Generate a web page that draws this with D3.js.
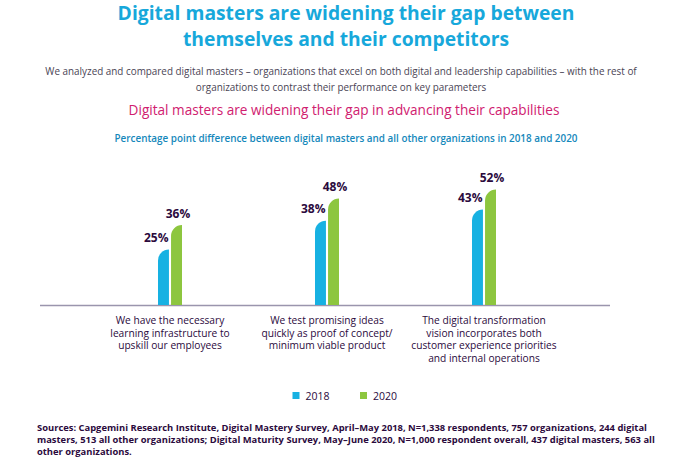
<!DOCTYPE html>
<html><head><meta charset="utf-8">
<script src="https://cdn.jsdelivr.net/npm/d3@7"></script>
<style>
html,body{margin:0;padding:0;background:#fff;}
svg{display:block;font-family:"Open Sans","Noto Sans",sans-serif;}
</style></head>
<body><svg id="c" width="680" height="460"></svg>
<script>
const titleLines = ["Digital masters are widening their gap between","themselves and their competitors"];
const introLines = ["We analyzed and compared digital masters \u2013 organizations that excel on both digital and leadership capabilities \u2013 with the rest of","organizations to contrast their performance on key parameters"];
const chartTitle = "Digital masters are widening their gap in advancing their capabilities";
const chartSubtitle = "Percentage point difference between digital masters and all other organizations in 2018 and 2020";
const categories = ["learning","testing","vision"];
const categoryLabels = [
  ["We have the necessary","learning infrastructure to","upskill our employees"],
  ["We test promising ideas","quickly as proof of concept/","minimum viable product"],
  ["The digital transformation","vision incorporates both","customer experience priorities","and internal operations"]
];
const seriesNames = ["2018","2020"];
const values2018 = [25,38,43];
const values2020 = [36,48,52];
const sourceLines = [
  "Sources: Capgemini Research Institute, Digital Mastery Survey, April\u2013May 2018, N=1,338 respondents, 757 organizations, 244 digital",
  "masters, 513 all other organizations; Digital Maturity Survey, May\u2013June 2020, N=1,000 respondent overall, 437 digital masters, 563 all",
  "other organizations."
];

const colors = {"2018":"#17b1e2","2020":"#8dc63f"};
const svg = d3.select("#c");

svg.selectAll("text.title").data(titleLines).join("text")
  .attr("x",346).attr("y",(d,i)=>19.5+i*26).attr("text-anchor","middle")
  .attr("font-size",19.3).attr("font-weight",700).attr("fill","#17a8db").text(d=>d);

svg.selectAll("text.intro").data(introLines).join("text")
  .attr("x",341).attr("y",(d,i)=>75+i*15.5).attr("text-anchor","middle")
  .attr("font-size",9.9).attr("fill","#4a4455").text(d=>d);

svg.append("text").attr("x",344).attr("y",115).attr("text-anchor","middle")
  .attr("font-size",13.6).attr("fill","#d0206f").text(chartTitle);

svg.append("text").attr("x",346).attr("y",141.5).attr("text-anchor","middle")
  .attr("font-size",9.9).attr("font-weight",600).attr("fill","#1588bb").text(chartSubtitle);

const x0 = d3.scaleBand().domain(categories).range([91.5,562.5]).padding(0);
const x1 = d3.scaleBand().domain(seriesNames).range([-12,12]).paddingInner(0.16);
const y = d3.scaleLinear().domain([0,100]).range([305,83]);

svg.append("line").attr("x1",40).attr("x2",610).attr("y1",y(0)+0.5).attr("y2",y(0)+0.5)
  .attr("stroke","#9a95ad").attr("stroke-width",1.3);

const rows = categories.map((c,i)=>({c, vals:[{s:"2018",v:values2018[i]},{s:"2020",v:values2020[i]}]}));

function barPath(x,yt,w,yb){
  const r = Math.min(w, yb-yt);
  return `M${x},${yb}L${x},${yt+r}A${r},${r} 0 0 1 ${x+r},${yt}L${x+w},${yt}L${x+w},${yb}Z`;
}

const g = svg.selectAll("g.grp").data(rows).join("g")
  .attr("transform",d=>`translate(${x0(d.c)+x0.bandwidth()/2},0)`);

g.selectAll("path").data(d=>d.vals).join("path")
  .attr("d",d=>barPath(x1(d.s),y(d.v),x1.bandwidth(),y(0)))
  .attr("fill",d=>colors[d.s]);

g.selectAll("text.val").data(d=>d.vals).join("text")
  .attr("x",d=>d.s==="2018"? x1(d.s)+x1.bandwidth()-0.5 : x1(d.s)+x1.bandwidth()/2+1.5)
  .attr("y",d=>y(d.v)-7.5)
  .attr("text-anchor",d=>d.s==="2018"?"end":"middle")
  .attr("font-size",12).attr("font-weight",700).attr("fill","#2b0a3d")
  .text(d=>d.v+"%");

g.each(function(d,i){
  d3.select(this).selectAll("text.cat").data(categoryLabels[i]).join("text")
    .attr("x",0).attr("y",(t,j)=>324+j*12.6).attr("text-anchor","middle")
    .attr("font-size",10.2).attr("fill","#2b0a3d").text(t=>t);
});

const leg = svg.selectAll("g.leg").data(seriesNames).join("g")
  .attr("transform",(d,i)=>`translate(${292.5+i*67.5},392)`);
leg.append("rect").attr("width",7).attr("height",7).attr("fill",d=>colors[d]);
leg.append("text").attr("x",13).attr("y",7.5).attr("font-size",10.5).attr("fill","#2b0a3d").text(d=>d);

svg.selectAll("text.src").data(sourceLines).join("text")
  .attr("x",37).attr("y",(d,i)=>431+i*12).attr("font-size",9.4).attr("font-weight",700)
  .attr("fill","#2b0a3d").text(d=>d);
</script></body></html>
